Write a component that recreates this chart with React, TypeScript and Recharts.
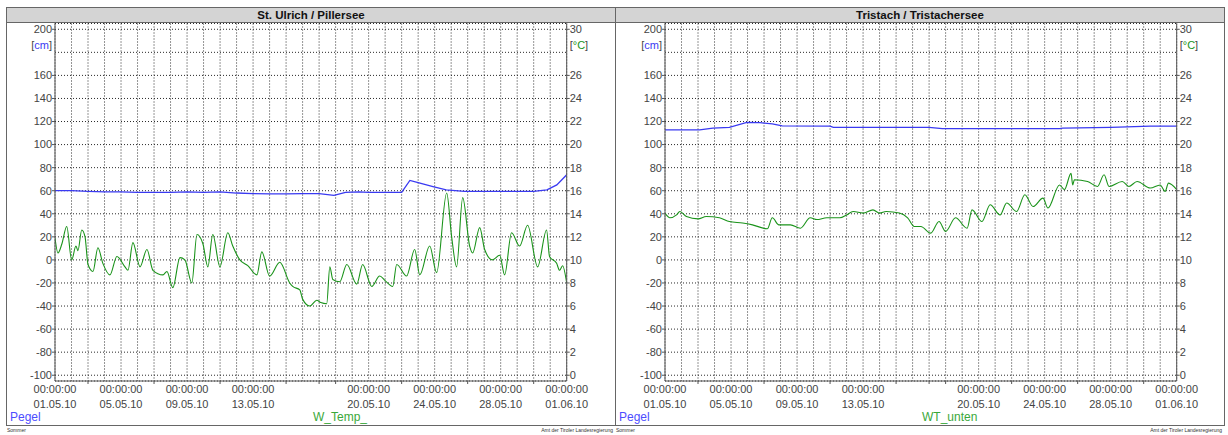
import React from 'react';
import { LineChart, Line, XAxis, YAxis, CartesianGrid } from 'recharts';

// x axis: days since 01.05.10 00:00
const labelDays = [0, 4, 8, 12, 19, 23, 27, 31];
const dateLabels = ['01.05.10', '05.05.10', '09.05.10', '13.05.10', '20.05.10', '24.05.10', '28.05.10', '01.06.10'];
const minorDays = [2, 6, 10, 14, 16, 17, 21, 25, 29];
const gridDays = [0, 1, 2, 3, 4, 5, 6, 7, 8, 9, 10, 11, 12, 13, 14, 15, 16, 17, 18, 19, 20, 21, 22, 23, 24, 25, 26, 27, 28, 29, 30, 31];
const cmTicks = [-100, -80, -60, -40, -20, 0, 20, 40, 60, 80, 100, 120, 140, 160, 180, 200];
const degTicks = [0, 2, 4, 6, 8, 10, 12, 14, 16, 18, 20, 22, 24, 26, 28, 30];

// St. Ulrich / Pillersee
const ulrichPegelDays = [0, 1, 2, 3, 4, 5, 6, 7, 8, 9, 10, 11, 12, 13, 14, 15, 16, 16.9, 17.6, 18.4, 19, 20, 21, 21.5, 22, 22.9, 23.7, 24.8, 26, 27, 28, 29, 29.8, 30.4, 31];
const ulrichPegelCm = [60, 60, 59.5, 59, 59, 58.5, 58.5, 58.5, 59, 58.5, 59, 58, 57.5, 57.3, 57.3, 57.5, 57.5, 56, 58.5, 59, 58.5, 58.5, 58.5, 68.9, 67, 63.6, 60.8, 59.5, 59.5, 59.5, 59.5, 59.5, 60.8, 65, 73.8];
const ulrichTempDays = [0, 0.18, 0.42, 0.71, 1.01, 1.27, 1.39, 1.62, 1.82, 2.0, 2.3, 2.6, 2.9, 3.33, 3.75, 4.24, 4.42, 4.72, 5.15, 5.57, 5.93, 6.54, 6.78, 7.14, 7.57, 7.87, 8.29, 8.6, 8.96, 9.26, 9.56, 9.99, 10.47, 10.77, 11.2, 11.68, 12.23, 12.53, 13.0, 13.62, 14.22, 14.4, 14.83, 15.0, 15.44, 15.86, 16.1, 16.46, 16.65, 16.83, 17.25, 17.68, 18.28, 18.64, 19.19, 19.67, 20.0, 20.46, 20.7, 21.3, 21.79, 22.1, 22.7, 23.12, 23.73, 24.03, 24.33, 24.7, 25.12, 25.3, 25.73, 26.03, 26.5, 26.94, 27.24, 27.66, 28.15, 28.63, 29.24, 29.78, 29.96, 30.39, 30.57, 30.75, 31.0];
const ulrichTempC = [11.9, 10.6, 11.4, 12.9, 10.0, 11.2, 10.8, 12.6, 12.0, 9.6, 9.0, 11.05, 9.7, 8.7, 10.3, 9.4, 9.1, 11.5, 9.4, 10.9, 9.1, 8.7, 9.0, 7.6, 10.2, 10.0, 8.0, 12.2, 11.4, 9.4, 12.2, 9.4, 12.35, 11.2, 10.0, 9.5, 8.7, 10.7, 8.6, 9.8, 8.0, 7.7, 7.4, 6.6, 6.0, 6.5, 6.3, 6.2, 9.4, 8.3, 8.1, 9.6, 7.9, 9.6, 7.7, 8.6, 8.2, 7.7, 9.6, 8.6, 10.9, 8.7, 11.2, 8.9, 15.8, 12.0, 9.4, 15.4, 11.2, 10.6, 12.8, 10.9, 10.0, 10.4, 8.7, 12.35, 11.2, 13.0, 9.4, 12.6, 10.3, 9.7, 9.1, 9.5, 8.0];

// Tristach / Tristachersee
const tristachPegelDays = [0, 2.1, 2.9, 3.9, 4.96, 5.75, 6.5, 7.1, 10, 10.2, 16, 16.8, 23.9, 24.1, 27, 29.4, 31];
const tristachPegelCm = [112.8, 112.8, 114.3, 115, 119.2, 119, 118, 116.3, 116, 115, 115, 113.8, 113.8, 114.3, 115, 116, 116];
const tristachTempDays = [0, 0.3, 0.7, 0.9, 1.3, 2.0, 2.5, 3.3, 3.9, 4.7, 5.3, 6.2, 6.5, 6.9, 7.6, 8.2, 8.8, 9.2, 9.8, 10.6, 11.0, 11.4, 12.0, 12.6, 13.0, 13.4, 14.2, 14.7, 15.1, 15.5, 16.1, 16.6, 17.0, 17.6, 18.3, 18.6, 19.2, 19.7, 20.3, 20.7, 21.3, 21.8, 22.3, 22.9, 23.2, 23.9, 24.2, 24.6, 24.7, 24.8, 25.6, 26.2, 26.6, 26.9, 27.7, 28.1, 28.6, 29.4, 30.0, 30.3, 30.5, 31.0];
const tristachTempC = [14.06, 13.65, 13.9, 14.2, 13.77, 13.56, 13.77, 13.65, 13.33, 13.2, 13.04, 12.7, 13.65, 13.04, 13.04, 12.75, 13.65, 13.5, 13.65, 13.65, 13.9, 14.2, 14.06, 14.34, 14.06, 14.2, 14.06, 13.65, 12.9, 12.9, 12.32, 13.33, 12.47, 13.65, 12.75, 14.34, 13.33, 14.78, 13.9, 14.93, 14.2, 15.65, 14.63, 15.36, 14.5, 16.5, 16.1, 17.5, 16.5, 16.95, 16.8, 16.37, 17.38, 16.37, 16.8, 16.37, 16.8, 16.23, 16.5, 15.94, 16.66, 16.1];

const toPoints = (days: number[], vals: number[]) => days.map((d, i) => ({ day: d, v: vals[i] }));

const FONT = '"Liberation Sans", Arial, sans-serif';
const TXT = '#444';
const BLUE = '#3a3af2';
const GREEN = '#1a931a';

const DateTick = (props: any) => {
  const { x, y, payload } = props;
  const idx = labelDays.indexOf(payload.value);
  if (idx < 0) {
    return <line x1={x} y1={y} x2={x} y2={y + 3} stroke="#555" />;
  }
  return (
    <g>
      <text x={x} y={y + 12} textAnchor="middle" fontSize={11} fill={TXT} fontFamily={FONT}>00:00:00</text>
      <text x={x} y={y + 27} textAnchor="middle" fontSize={11} fill={TXT} fontFamily={FONT}>{dateLabels[idx]}</text>
    </g>
  );
};

const LeftTick = (props: any) => {
  const { x, y, payload } = props;
  if (payload.value === 180) {
    return (
      <text x={x - 3} y={y - 7} dy="0.35em" textAnchor="end" fontSize={11} fill={TXT} fontFamily={FONT}>
        [<tspan fill={BLUE}>cm</tspan>]
      </text>
    );
  }
  return (
    <g>
      <line x1={x - 3} y1={y} x2={x} y2={y} stroke="#555" />
      <text x={x - 3} y={y} dy="0.35em" textAnchor="end" fontSize={11} fill={TXT} fontFamily={FONT}>{payload.value}</text>
    </g>
  );
};

const RightTick = (props: any) => {
  const { x, y, payload } = props;
  if (payload.value === 28) {
    return (
      <text x={x + 3} y={y - 7} dy="0.35em" textAnchor="start" fontSize={11} fill={TXT} fontFamily={FONT}>
        [<tspan fill={GREEN}>°C</tspan>]
      </text>
    );
  }
  return (
    <g>
      <line x1={x} y1={y} x2={x + 3} y2={y} stroke="#555" />
      <text x={x + 3} y={y} dy="0.35em" textAnchor="start" fontSize={11} fill={TXT} fontFamily={FONT}>{payload.value}</text>
    </g>
  );
};

interface PanelProps {
  left: number;
  title: string;
  pegel: { day: number; v: number }[];
  temp: { day: number; v: number }[];
  tempName: string;
  rightAxisWidth: number;
  leftAxisWidth: number;
}

const Panel: React.FC<PanelProps> = ({ left, title, pegel, temp, tempName, leftAxisWidth, rightAxisWidth }) => (
  <>
    <div style={{ position: 'absolute', left, top: 7 }}>
      <LineChart width={610} height={418} margin={{ top: 16.5, right: 0, bottom: 0, left: 0 }}>
        <CartesianGrid yAxisId="cm" stroke="#2a2a2a" strokeDasharray="1 2" verticalValues={gridDays} />
        <XAxis
          type="number"
          dataKey="day"
          domain={[0, 31]}
          ticks={[...labelDays, ...minorDays].sort((a, b) => a - b)}
          interval={0}
          height={44}
          tickSize={0}
          tickMargin={0}
          tickLine={false}
          axisLine={{ stroke: '#555' }}
          tick={(p: any) => <DateTick {...p} />}
          allowDataOverflow
        />
        <YAxis
          yAxisId="cm"
          domain={[-105, 205]}
          ticks={cmTicks}
          interval={0}
          width={leftAxisWidth}
          tickSize={0}
          tickMargin={0}
          tickLine={false}
          axisLine={{ stroke: '#555' }}
          tick={(p: any) => <LeftTick {...p} />}
          allowDataOverflow
        />
        <YAxis
          yAxisId="c"
          orientation="right"
          domain={[-0.5, 30.5]}
          ticks={degTicks}
          interval={0}
          width={rightAxisWidth}
          tickSize={0}
          tickMargin={0}
          tickLine={false}
          axisLine={{ stroke: '#555' }}
          tick={(p: any) => <RightTick {...p} />}
          allowDataOverflow
        />
        <Line yAxisId="c" data={temp} dataKey="v" type="monotoneX" stroke={GREEN} strokeWidth={1.1} dot={false} isAnimationActive={false} />
        <Line yAxisId="cm" data={pegel} dataKey="v" type="linear" stroke={BLUE} strokeWidth={1.3} dot={false} isAnimationActive={false} />
      </LineChart>
    </div>
    <div
      style={{
        position: 'absolute', left, top: 7, width: 608, height: 14, background: '#d4d4d4',
        border: '1px solid #666', fontFamily: FONT, fontWeight: 'bold', fontSize: 11.5,
        lineHeight: '14px', textAlign: 'center', color: '#111',
      }}
    >
      {title}
    </div>
    <div style={{ position: 'absolute', left, top: 7, width: 608, height: 417, border: '1px solid #666', pointerEvents: 'none' }} />
    <div style={{ position: 'absolute', left: left + 4, top: 410, fontFamily: FONT, fontSize: 12, lineHeight: '14px', color: '#4d4dff' }}>Pegel</div>
    <div style={{ position: 'absolute', left: left + 307, top: 410, fontFamily: FONT, fontSize: 12, lineHeight: '14px', color: '#3aa83a' }}>{tempName}</div>
    <div style={{ position: 'absolute', left: left + 1, top: 427, fontFamily: FONT, fontSize: 5, lineHeight: '6px', color: '#333' }}>Sommer</div>
    <div style={{ position: 'absolute', left, top: 427, width: 607, textAlign: 'right', fontFamily: FONT, fontSize: 5, lineHeight: '6px', color: '#333' }}>Amt der Tiroler Landesregierung</div>
  </>
);

export default function App() {
  return (
    <div style={{ position: 'absolute', left: 0, top: 0, width: 1228, height: 435, background: '#fff', overflow: 'hidden' }}>
      <Panel
        left={6}
        title="St. Ulrich / Pillersee"
        pegel={toPoints(ulrichPegelDays, ulrichPegelCm)}
        temp={toPoints(ulrichTempDays, ulrichTempC)}
        tempName="W_Temp_"
        leftAxisWidth={49}
        rightAxisWidth={49.3}
      />
      <Panel
        left={615}
        title="Tristach / Tristachersee"
        pegel={toPoints(tristachPegelDays, tristachPegelCm)}
        temp={toPoints(tristachTempDays, tristachTempC)}
        tempName="WT_unten"
        leftAxisWidth={50}
        rightAxisWidth={48.3}
      />
    </div>
  );
}
